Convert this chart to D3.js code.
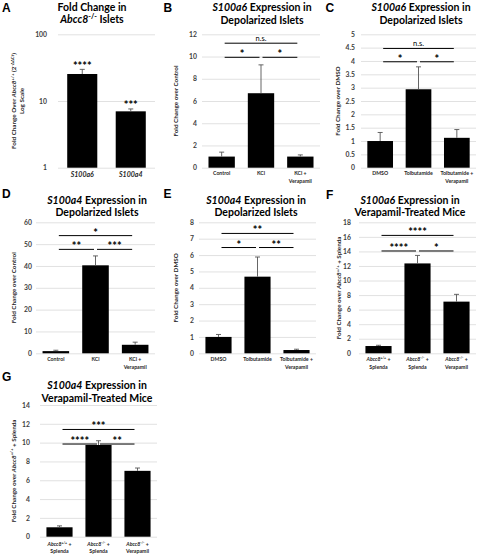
<!DOCTYPE html>
<html><head><meta charset="utf-8">
<script src="https://cdn.jsdelivr.net/npm/d3@7"></script>
<style>body{margin:0;background:#fff}svg{display:block}</style>
</head><body>
<svg id="c" width="486" height="554"></svg>
<script>
// ---------- DATA ----------
const aCategories = [["_S100a6_"], ["_S100a4_"]];
const aValues = [25.4, 7.0];
const aErrors = [4.4, 0.6];
const aStars = ["****", "***"];
const aTicks = [1, 10, 100];

const bCategories = [["Control"], ["KCl"], ["KCl +", "Verapamil"]];
const bValues = [1.0, 6.7, 1.0];
const bErrors = [0.4, 2.55, 0.15];
const bTicks = [0, 2, 4, 6, 8, 10, 12];
const bSig = [[0, 2, "n.s."], [0, 1, "*"], [1, 2, "*"]];

const cCategories = [["DMSO"], ["Tolbutamide"], ["Tolbutamide +", "Verapamil"]];
const cValues = [1.0, 2.94, 1.12];
const cErrors = [0.32, 0.84, 0.31];
const cTicks = [0, 0.5, 1, 1.5, 2, 2.5, 3, 3.5, 4, 4.5, 5];
const cSig = [[0, 2, "n.s."], [0, 1, "*"], [1, 2, "*"]];

const dCategories = [["Control"], ["KCl"], ["KCl +", "Verapamil"]];
const dValues = [1.0, 40.3, 3.9];
const dErrors = [0.4, 4.3, 1.2];
const dTicks = [0, 10, 20, 30, 40, 50, 60];
const dSig = [[0, 2, "*"], [0, 1, "**"], [1, 2, "***"]];

const eCategories = [["DMSO"], ["Tolbutamide"], ["Tolbutamide +", "Verapamil"]];
const eValues = [1.0, 4.68, 0.2];
const eErrors = [0.15, 1.2, 0.05];
const eTicks = [0, 1, 2, 3, 4, 5, 6, 7, 8];
const eSig = [[0, 2, "**"], [0, 1, "*"], [1, 2, "**"]];

const fCategories = [["_Abcc8_^+/+^ +", "Splenda"], ["_Abcc8_^-/-^ +", "Splenda"], ["_Abcc8_^-/-^ +", "Verapamil"]];
const fValues = [1.0, 12.35, 7.1];
const fErrors = [0.1, 1.1, 1.0];
const fTicks = [0, 2, 4, 6, 8, 10, 12, 14, 16, 18];
const fSig = [[0, 2, "****"], [0, 1, "****"], [1, 2, "*"]];

const gCategories = [["_Abcc8_^+/+^ +", "Splenda"], ["_Abcc8_^-/-^ +", "Splenda"], ["_Abcc8_^-/-^ +", "Verapamil"]];
const gValues = [1.0, 9.75, 7.0];
const gErrors = [0.15, 0.45, 0.3];
const gTicks = [0, 2, 4, 6, 8, 10, 12, 14];
const gSig = [[0, 2, "***"], [0, 1, "****"], [1, 2, "**"]];

const titles = {
  A: ["Fold Change in", "_Abcc8_^-/-^ Islets"],
  B: ["_S100a6_ Expression in", "Depolarized Islets"],
  C: ["_S100a6_ Expression in", "Depolarized Islets"],
  D: ["_S100a4_ Expression in", "Depolarized Islets"],
  E: ["_S100a4_ Expression in", "Depolarized Islets"],
  F: ["_S100a6_ Expression in", "Verapamil-Treated Mice"],
  G: ["_S100a4_ Expression in", "Verapamil-Treated Mice"]
};
const yTitles = {
  A: ["Fold Change Over _Abcc8_^+/+^ (2^-ΔΔCt^)", "Log Scale"],
  B: ["Fold Change over Control"],
  C: ["Fold Change over DMSO"],
  D: ["Fold Change over Control"],
  E: ["Fold Change over DMSO"],
  F: ["Fold Change over _Abcc8_^+/+^ + Splenda"],
  G: ["Fold Change over _Abcc8_^+/+^ + Splenda"]
};

// ---------- LAYOUT ----------
const FONT = "Lato, 'Open Sans', 'Liberation Sans', sans-serif";
const layouts = {
  A: {xr: [58, 155], pad: 0.38, yr: [167.7, 34.3], log: true, lblR: 47, tx: 92, ty: [11, 22.7], lx: 2, ly: 11.7, ytx: [14, 22], catY: 176.5, catFs: 7},
  B: {xr: [202, 320], pad: 0.33, yr: [167.7, 34.3], lblR: 197, tx: 262, ty: [11, 23.5], lx: 163.5, ly: 11.7, ytx: [175.3], catY: 175, sig: [11.2, 9.93]},
  C: {xr: [361, 476], pad: 0.33, yr: [167.7, 34.3], lblR: 355, tx: 421, ty: [11, 23.5], lx: 325.5, ly: 11.7, ytx: [337.3], catY: 175, sig: [4.47, 3.97]},
  D: {xr: [36, 155], pad: 0.33, yr: [353.3, 222.3], lblR: 32, tx: 97, ty: [203.5, 216], lx: 2, ly: 197.5, ytx: [13.3], catY: 361, sig: [53.9, 47.6]},
  E: {xr: [199, 316], pad: 0.33, yr: [353.3, 222.3], lblR: 194, tx: 256, ty: [203.5, 216], lx: 163.5, ly: 197.5, ytx: [175.3], catY: 361, sig: [7.32, 6.46]},
  F: {xr: [359, 476], pad: 0.33, yr: [353.3, 222.3], lblR: 351, tx: 410, ty: [203.5, 216], lx: 326, ly: 198.5, ytx: [339], catY: 361, sig: [16.2, 14.06]},
  G: {xr: [40, 157], pad: 0.33, yr: [536.7, 405], lblR: 30, tx: 97, ty: [388.5, 402], lx: 2, ly: 380.7, ytx: [13.3], catY: 545.5, catDy: 7.6, sig: [11.4, 9.85]}
};

const svg = d3.select("#c");

function parseRich(str) {
  const out = []; let it = false, sup = false, buf = "";
  const flush = () => { if (buf) out.push({t: buf, i: it, s: sup}); buf = ""; };
  for (const ch of str) {
    if (ch === "_") { flush(); it = !it; }
    else if (ch === "^") { flush(); sup = !sup; }
    else buf += ch;
  }
  flush();
  return out;
}
function rich(textSel, str, fs) {
  let shift = 0;
  parseRich(str).forEach(p => {
    const target = p.s ? -fs * 0.38 : 0;
    const ts = textSel.append("tspan").text(p.t);
    if (target - shift !== 0) ts.attr("dy", target - shift);
    shift = target;
    if (p.i) ts.attr("font-style", "italic");
    if (p.s) ts.attr("font-size", fs * 0.68);
  });
}

function drawPanel(id, d) {
  const L = layouts[id];
  const g = svg.append("g");
  const n = d.cats.length;
  const x = d3.scaleBand().domain(d3.range(n)).range(L.xr).paddingInner(L.pad).paddingOuter(L.pad / 2);
  const y = (L.log ? d3.scaleLog() : d3.scaleLinear()).domain(d3.extent(d.ticks)).range(L.yr);
  const base = y(d3.min(d.ticks));
  const cx = i => x(i) + x.bandwidth() / 2;

  const ax = d3.axisLeft(y).tickValues(d.ticks).tickSize(-(L.xr[1] - L.xr[0]))
    .tickPadding(L.xr[0] - L.lblR).tickFormat(v => String(v));
  const ag = g.append("g").attr("transform", `translate(${L.xr[0]},0)`).call(ax);
  ag.select(".domain").remove();
  ag.selectAll(".tick line").attr("stroke", "#d9d9d9").attr("stroke-width", 0.8);
  ag.selectAll(".tick text").attr("font-family", FONT).attr("font-size", 6.8)
    .attr("font-weight", "bold").attr("fill", "#404040");

  g.selectAll("rect.bar").data(d.vals).join("rect").attr("class", "bar")
    .attr("x", (v, i) => x(i)).attr("width", x.bandwidth())
    .attr("y", v => y(v)).attr("height", v => base - y(v)).attr("fill", "#000");

  const eb = g.selectAll("g.err").data(d.vals).join("g").attr("class", "err")
    .attr("stroke", "#555").attr("stroke-width", 0.9);
  eb.append("line").attr("x1", (v, i) => cx(i)).attr("x2", (v, i) => cx(i))
    .attr("y1", v => y(v)).attr("y2", (v, i) => y(v + d.errs[i]));
  eb.append("line").attr("x1", (v, i) => cx(i) - 2.5).attr("x2", (v, i) => cx(i) + 2.5)
    .attr("y1", (v, i) => y(v + d.errs[i])).attr("y2", (v, i) => y(v + d.errs[i]));

  if (d.stars) {
    g.selectAll("text.star").data(d.stars).join("text").attr("class", "star")
      .attr("x", (s, i) => cx(i)).attr("y", (s, i) => y(d.vals[i] + d.errs[i]) + 0.5)
      .attr("text-anchor", "middle").attr("font-family", FONT).attr("font-weight", "bold")
      .attr("font-size", 11).attr("fill", "#000").text(s => s);
  }

  // category labels
  d.cats.forEach((lines, i) => {
    lines.forEach((ln, k) => {
      const t = g.append("text").attr("x", cx(i)).attr("y", L.catY + k * (L.catDy || 8.3))
        .attr("text-anchor", "middle").attr("font-family", FONT).attr("font-weight", "bold")
        .attr("font-size", L.catFs || 5.2).attr("fill", "#262626");
      rich(t, ln, L.catFs || 5.2);
    });
  });

  // significance brackets
  if (d.sig) {
    d.sig.forEach(([a, b, lab]) => {
      const lvl = (b - a === 2) ? L.sig[0] : L.sig[1];
      const yy = y(lvl);
      const x1 = cx(a) + (a === 1 ? 1.5 : 3), x2 = cx(b) - (b === 1 ? 1.5 : 3);
      g.append("line").attr("x1", x1).attr("x2", x2).attr("y1", yy).attr("y2", yy)
        .attr("stroke", "#000").attr("stroke-width", 1);
      const ns = lab === "n.s.";
      g.append("text").attr("x", (x1 + x2) / 2).attr("y", ns ? yy - 2.5 : yy + 1)
        .attr("text-anchor", "middle").attr("font-family", FONT).attr("font-weight", ns ? "normal" : "bold")
        .attr("font-size", ns ? 7.5 : 11).attr("fill", "#000").text(lab);
    });
  }

  // title
  titles[id].forEach((ln, k) => {
    const t = g.append("text").attr("x", L.tx).attr("y", L.ty[k]).attr("text-anchor", "middle")
      .attr("font-family", FONT).attr("font-weight", "bold").attr("font-size", 10.5).attr("fill", "#000");
    rich(t, ln, 10.5);
  });
  // panel letter
  g.append("text").attr("x", L.lx).attr("y", L.ly).attr("font-family", "'Liberation Sans', Arial, sans-serif")
    .attr("font-weight", "bold").attr("font-size", 12).attr("fill", "#000").text(id);
  // y title
  const ymid = (L.yr[0] + L.yr[1]) / 2;
  yTitles[id].forEach((ln, k) => {
    const t = g.append("text").attr("transform", `translate(${L.ytx[k]},${ymid}) rotate(-90)`)
      .attr("dy", "0.35em").attr("text-anchor", "middle").attr("font-family", FONT)
      .attr("font-weight", "bold").attr("font-size", 6.3).attr("fill", "#262626");
    rich(t, ln, 6.3);
  });
}

drawPanel("A", {cats: aCategories, vals: aValues, errs: aErrors, ticks: aTicks, stars: aStars});
drawPanel("B", {cats: bCategories, vals: bValues, errs: bErrors, ticks: bTicks, sig: bSig});
drawPanel("C", {cats: cCategories, vals: cValues, errs: cErrors, ticks: cTicks, sig: cSig});
drawPanel("D", {cats: dCategories, vals: dValues, errs: dErrors, ticks: dTicks, sig: dSig});
drawPanel("E", {cats: eCategories, vals: eValues, errs: eErrors, ticks: eTicks, sig: eSig});
drawPanel("F", {cats: fCategories, vals: fValues, errs: fErrors, ticks: fTicks, sig: fSig});
drawPanel("G", {cats: gCategories, vals: gValues, errs: gErrors, ticks: gTicks, sig: gSig});
</script>
</body></html>
